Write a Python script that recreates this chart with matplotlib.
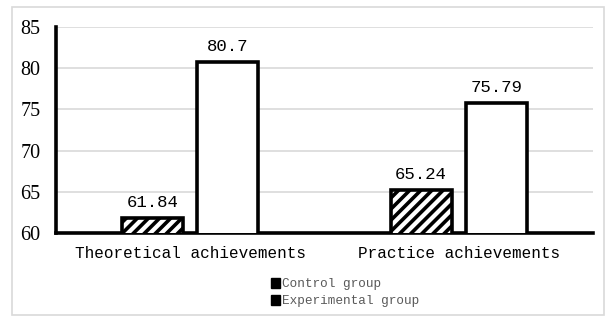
import numpy as np
import matplotlib.pyplot as plt
from matplotlib.patches import Rectangle, Patch

categories = ["Theoretical achievements", "Practice achievements"]
control = [61.84, 65.24]
experimental = [80.7, 75.79]
series_names = ["Control group", "Experimental group"]

mono = "Liberation Mono"

fig = plt.figure(figsize=(6.08, 3.18), dpi=100)
ax = fig.add_axes([56 / 608, 1 - 233 / 318, 537 / 608, 206 / 318])

plt.rcParams['hatch.linewidth'] = 2.6
x = np.arange(len(categories))
w = 0.228
off = 0.14
ax.bar(x - off, control, w, color="white", edgecolor="black",
       linewidth=2.6, hatch="///", zorder=3)
ax.bar(x + off, experimental, w, color="white", edgecolor="black",
       linewidth=2.6, zorder=3)

for xi, v in zip(x - off, control):
    ax.text(xi, v + 1.0, f"{v:g}", ha="center", va="bottom", fontsize=12.5, family=mono)
for xi, v in zip(x + off, experimental):
    ax.text(xi, v + 1.0, f"{v:g}", ha="center", va="bottom", fontsize=12.5, family=mono)

ax.set_xlim(-0.5, 1.5)
ax.set_ylim(60, 85)
ax.set_yticks([60, 65, 70, 75, 80, 85])
ax.set_xticks(x)
ax.set_xticklabels(categories, fontsize=11.5, family=mono)
for lab in ax.get_yticklabels():
    lab.set_family("Liberation Serif")
    lab.set_fontsize(14.5)
ax.tick_params(axis="y", length=0, pad=11)
ax.tick_params(axis="x", length=0, pad=9)
ax.yaxis.grid(True, color="#d9d9d9", linewidth=1.2, zorder=0)
ax.set_axisbelow(True)
for s in ["top", "right"]:
    ax.spines[s].set_visible(False)
for s in ["left", "bottom"]:
    ax.spines[s].set_linewidth(2.6)
    ax.spines[s].set_color("black")

handles = [Patch(facecolor="black", edgecolor="black"),
           Patch(facecolor="black", edgecolor="black")]
leg = fig.legend(handles, series_names, loc="upper left",
                 bbox_to_anchor=(266 / 608, 1 - 273 / 318), frameon=False,
                 handlelength=0.7, handleheight=0.8, handletextpad=0.15,
                 labelspacing=0.35, borderaxespad=0,
                 prop={"family": mono, "size": 9.2})
for t in leg.get_texts():
    t.set_color("#595959")

fig.patches.append(Rectangle((12 / 608, 1 - 315 / 318), 592 / 608, 308 / 318,
                             transform=fig.transFigure, fill=False,
                             edgecolor="#d9d9d9", linewidth=1.2))

fig.savefig("out.png", dpi=100)
